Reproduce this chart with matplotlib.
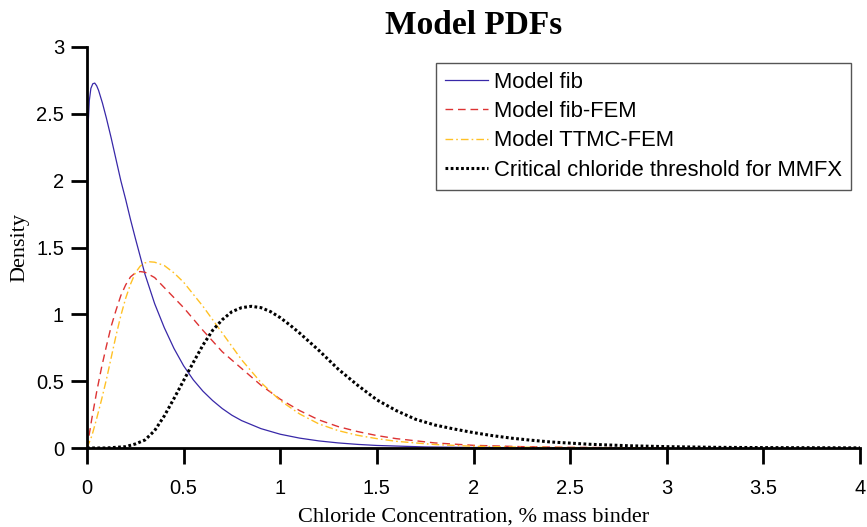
import matplotlib
matplotlib.use("Agg")
import matplotlib.pyplot as plt

# PDF curves, chloride concentration (% mass binder) vs density
fib_x = [0, 0.001, 0.002, 0.004, 0.007, 0.012, 0.02, 0.03, 0.04, 0.05, 0.06, 0.08,
         0.1, 0.125, 0.15, 0.175, 0.2, 0.225, 0.25, 0.3, 0.35, 0.4, 0.45, 0.5, 0.55,
         0.6, 0.65, 0.7, 0.75, 0.8, 0.9, 1.0, 1.1, 1.2, 1.3, 1.4, 1.5, 1.75, 2.0, 2.5, 3.0]
fib_y = [0, 1.0, 1.7, 2.2, 2.45, 2.6, 2.69, 2.725, 2.73, 2.71, 2.675, 2.58,
         2.47, 2.32, 2.16, 2.0, 1.86, 1.71, 1.57, 1.30, 1.08, 0.90, 0.745, 0.615, 0.51,
         0.425, 0.355, 0.295, 0.245, 0.205, 0.145, 0.103, 0.074, 0.053, 0.038, 0.027, 0.019,
         0.008, 0.004, 0.001, 0.0]

fem_x = [0, 0.025, 0.05, 0.075, 0.1, 0.125, 0.15, 0.175, 0.2, 0.225, 0.25, 0.275, 0.3,
         0.35, 0.4, 0.5, 0.6, 0.7, 0.8, 0.9, 1.0, 1.1, 1.2, 1.3, 1.4, 1.5, 1.6, 1.8, 2.0,
         2.25, 2.5, 3.0]
fem_y = [0, 0.22, 0.42, 0.60, 0.76, 0.91, 1.03, 1.14, 1.22, 1.28, 1.31, 1.32, 1.315,
         1.275, 1.20, 1.05, 0.88, 0.72, 0.595, 0.47, 0.365, 0.28, 0.21, 0.16, 0.123, 0.093,
         0.07, 0.038, 0.02, 0.01, 0.005, 0.0]

ttmc_x = [0, 0.025, 0.05, 0.075, 0.1, 0.125, 0.15, 0.175, 0.2, 0.225, 0.25, 0.275, 0.3,
          0.325, 0.35, 0.4, 0.45, 0.5, 0.6, 0.7, 0.8, 0.9, 1.0, 1.1, 1.2, 1.3, 1.4, 1.5,
          1.6, 1.8, 2.0, 2.25, 2.5, 3.0]
ttmc_y = [0, 0.09, 0.22, 0.36, 0.51, 0.675, 0.84, 0.99, 1.12, 1.225, 1.31, 1.36, 1.385,
          1.393, 1.39, 1.365, 1.31, 1.24, 1.06, 0.86, 0.66, 0.49, 0.355, 0.255, 0.18, 0.13,
          0.095, 0.07, 0.05, 0.026, 0.013, 0.006, 0.003, 0.0]

crit_x = [0, 0.1, 0.2, 0.25, 0.3, 0.35, 0.4, 0.45, 0.5, 0.55, 0.6, 0.65, 0.7, 0.75, 0.8,
          0.85, 0.9, 0.95, 1.0, 1.05, 1.1, 1.15, 1.2, 1.3, 1.4, 1.5, 1.6, 1.7, 1.8, 1.9,
          2.0, 2.1, 2.2, 2.3, 2.4, 2.6, 2.8, 3.0, 3.25, 3.5, 4.0]
crit_y = [0, 0.0, 0.01, 0.03, 0.06, 0.13, 0.24, 0.37, 0.505, 0.64, 0.77, 0.88, 0.96, 1.02,
          1.05, 1.06, 1.05, 1.02, 0.975, 0.92, 0.86, 0.795, 0.73, 0.59, 0.47, 0.36, 0.28,
          0.215, 0.172, 0.142, 0.115, 0.092, 0.073, 0.058, 0.045, 0.028, 0.017, 0.01, 0.005,
          0.003, 0.001]

labels = ["Model fib", "Model fib-FEM", "Model TTMC-FEM", "Critical chloride threshold for MMFX"]
xticks = [0, 0.5, 1, 1.5, 2, 2.5, 3, 3.5, 4]
yticks = [0, 0.5, 1, 1.5, 2, 2.5, 3]

plt.rcParams['font.family'] = ['Liberation Sans', 'DejaVu Sans']
serif = ['Liberation Serif', 'DejaVu Serif']

fig = plt.figure(figsize=(8.67, 5.27), dpi=100)
ax = fig.add_axes([87 / 867, 79 / 527, 773 / 867, 401 / 527])

ax.plot(fib_x, fib_y, color='#3828A8', lw=0.9, label=labels[0])
ax.plot(fem_x, fem_y, color='#DD3333', lw=1.0, dashes=(5.5, 3.5), label=labels[1])
ax.plot(ttmc_x, ttmc_y, color='#FFC125', lw=1.0, dashes=(5.5, 2.2, 1.2, 2.2), label=labels[2])
ax.plot(crit_x, crit_y, color='black', lw=2.2, dashes=(0.9, 0.8), dash_capstyle='butt',
        label=labels[3])

ax.set_xlim(0, 4)
ax.set_ylim(0, 3)
ax.set_xticks(xticks)
ax.set_xticklabels([f"{t:g}" for t in xticks])
ax.set_yticks(yticks)
ax.set_yticklabels([f"{t:g}" for t in yticks])

for side in ['top', 'right']:
    ax.spines[side].set_visible(False)
for side in ['left', 'bottom']:
    ax.spines[side].set_linewidth(2.0)
ax.tick_params(direction='out', length=11.5, width=2.0, labelsize=14.5)
ax.tick_params(axis='x', pad=11)
ax.tick_params(axis='y', pad=5)

ax.set_title("Model PDFs", family=serif, fontweight='bold', fontsize=24, pad=9)
ax.set_xlabel("Chloride Concentration, % mass binder", family=serif, fontsize=16, labelpad=7)
ax.set_ylabel("Density", family=serif, fontsize=16, labelpad=5)

leg = ax.legend(loc='upper right', bbox_to_anchor=(0.9884, 0.96), borderaxespad=0,
                fontsize=15.8, fancybox=False, framealpha=1, edgecolor='#555555',
                handlelength=1.95, handletextpad=0.3, labelspacing=0.38, borderpad=0.4)
leg.get_frame().set_linewidth(1.0)

fig.savefig("out.png", dpi=100)
